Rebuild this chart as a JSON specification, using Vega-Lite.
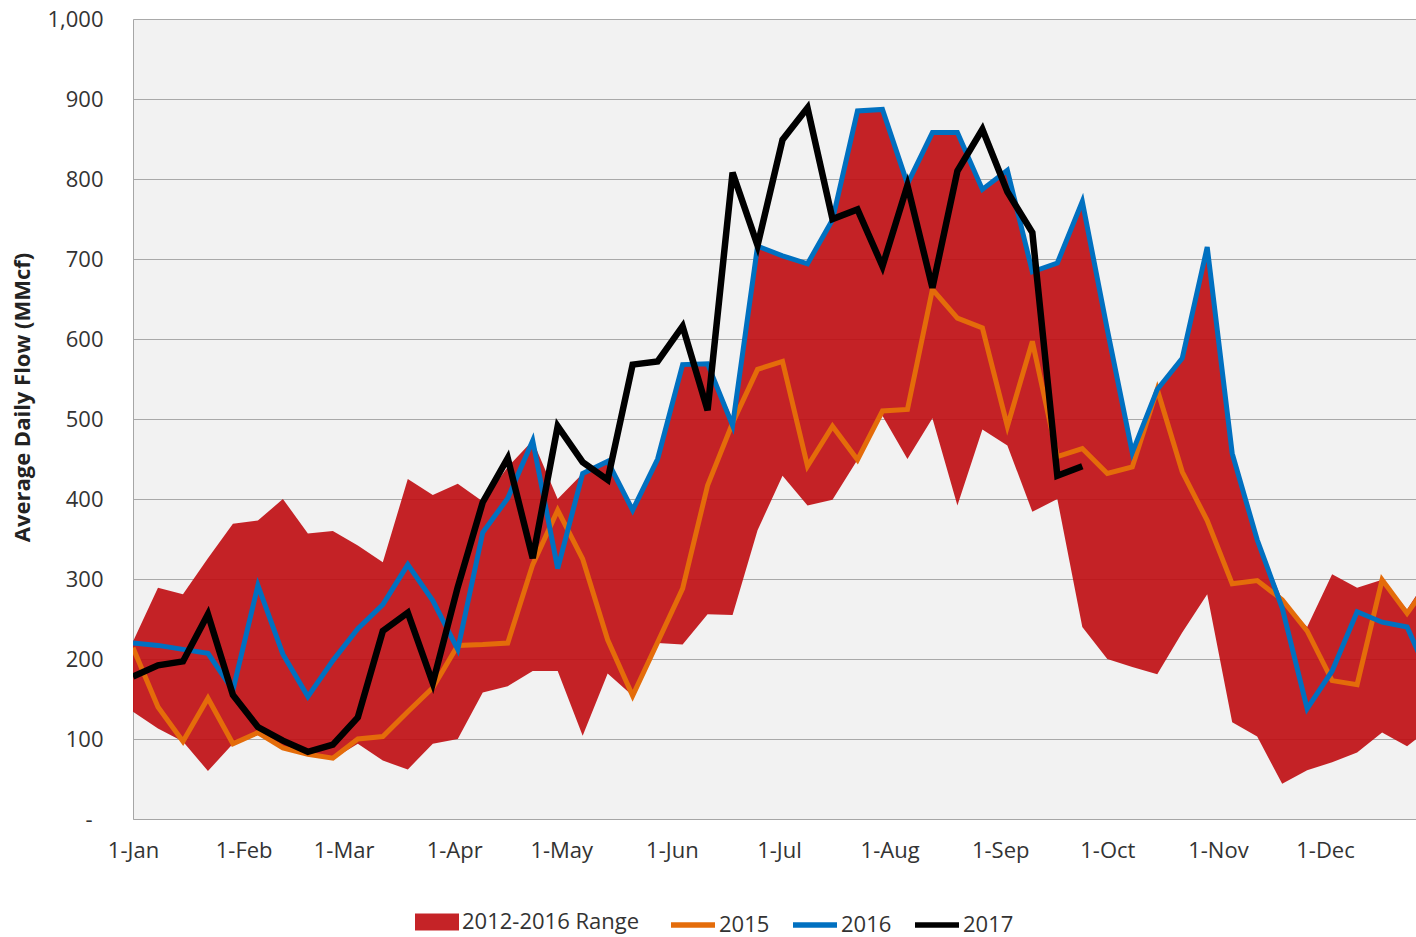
{
  "$schema": "https://vega.github.io/schema/vega-lite/v6.json",
  "width": 1283,
  "height": 800,
  "autosize": {"type": "none"},
  "padding": {"left": 133, "top": 19, "right": 0, "bottom": 118},
  "background": "#FFFFFF",
  "config": {
    "view": {"fill": "#F2F2F2", "stroke": null},
    "font": "Open Sans",
    "axis": {"labelFont": "Open Sans", "titleFont": "Open Sans"},
    "legend": {"labelFont": "Open Sans"}
  },
  "datasets": {
    "weekly": [
      {"date": "2017-01-01", "low": 134, "high": 222, "2015": 214, "2016": 220, "2017": 178},
      {"date": "2017-01-08", "low": 113, "high": 289, "2015": 140, "2016": 217, "2017": 192},
      {"date": "2017-01-15", "low": 97, "high": 281, "2015": 97, "2016": 212, "2017": 197},
      {"date": "2017-01-22", "low": 60, "high": 326, "2015": 151, "2016": 207, "2017": 256},
      {"date": "2017-01-29", "low": 94, "high": 369, "2015": 94, "2016": 161, "2017": 155},
      {"date": "2017-02-05", "low": 105, "high": 373, "2015": 108, "2016": 292, "2017": 115},
      {"date": "2017-02-12", "low": 88, "high": 400, "2015": 89, "2016": 206, "2017": 98},
      {"date": "2017-02-19", "low": 80, "high": 357, "2015": 81, "2016": 153, "2017": 84},
      {"date": "2017-02-26", "low": 75, "high": 360, "2015": 76, "2016": 198, "2017": 93},
      {"date": "2017-03-05", "low": 94, "high": 342, "2015": 100, "2016": 238, "2017": 127},
      {"date": "2017-03-12", "low": 73, "high": 321, "2015": 103, "2016": 268, "2017": 235},
      {"date": "2017-03-19", "low": 62, "high": 425, "2015": 134, "2016": 318, "2017": 258},
      {"date": "2017-03-26", "low": 94, "high": 405, "2015": 164, "2016": 273, "2017": 170},
      {"date": "2017-04-02", "low": 100, "high": 419, "2015": 217, "2016": 212, "2017": 290},
      {"date": "2017-04-09", "low": 158, "high": 397, "2015": 218, "2016": 358, "2017": 396},
      {"date": "2017-04-16", "low": 166, "high": 440, "2015": 220, "2016": 401, "2017": 451},
      {"date": "2017-04-23", "low": 185, "high": 473, "2015": 318, "2016": 473, "2017": 326},
      {"date": "2017-04-30", "low": 185, "high": 400, "2015": 386, "2016": 313, "2017": 491},
      {"date": "2017-05-07", "low": 104, "high": 432, "2015": 325, "2016": 432, "2017": 446},
      {"date": "2017-05-14", "low": 182, "high": 447, "2015": 224, "2016": 447, "2017": 424},
      {"date": "2017-05-21", "low": 154, "high": 386, "2015": 154, "2016": 386, "2017": 568},
      {"date": "2017-05-28", "low": 220, "high": 450, "2015": 221, "2016": 450, "2017": 572},
      {"date": "2017-06-04", "low": 218, "high": 568, "2015": 288, "2016": 568, "2017": 616},
      {"date": "2017-06-11", "low": 256, "high": 569, "2015": 417, "2016": 569, "2017": 511},
      {"date": "2017-06-18", "low": 255, "high": 500, "2015": 495, "2016": 492, "2017": 808},
      {"date": "2017-06-25", "low": 361, "high": 716, "2015": 562, "2016": 716, "2017": 717},
      {"date": "2017-07-02", "low": 429, "high": 704, "2015": 572, "2016": 704, "2017": 849},
      {"date": "2017-07-09", "low": 392, "high": 694, "2015": 441, "2016": 694, "2017": 889},
      {"date": "2017-07-16", "low": 399, "high": 749, "2015": 491, "2016": 749, "2017": 750},
      {"date": "2017-07-23", "low": 449, "high": 885, "2015": 449, "2016": 885, "2017": 762},
      {"date": "2017-07-30", "low": 504, "high": 887, "2015": 510, "2016": 887, "2017": 691},
      {"date": "2017-08-06", "low": 450, "high": 794, "2015": 512, "2016": 794, "2017": 792},
      {"date": "2017-08-13", "low": 501, "high": 858, "2015": 662, "2016": 858, "2017": 664},
      {"date": "2017-08-20", "low": 392, "high": 858, "2015": 626, "2016": 858, "2017": 810},
      {"date": "2017-08-27", "low": 487, "high": 787, "2015": 614, "2016": 787, "2017": 862},
      {"date": "2017-09-03", "low": 467, "high": 811, "2015": 491, "2016": 811, "2017": 784},
      {"date": "2017-09-10", "low": 384, "high": 684, "2015": 597, "2016": 684, "2017": 733},
      {"date": "2017-09-17", "low": 400, "high": 695, "2015": 453, "2016": 695, "2017": 429},
      {"date": "2017-09-24", "low": 240, "high": 772, "2015": 463, "2016": 772, "2017": 441},
      {"date": "2017-10-01", "low": 200, "high": 612, "2015": 432, "2016": 612},
      {"date": "2017-10-08", "low": 190, "high": 458, "2015": 440, "2016": 458},
      {"date": "2017-10-15", "low": 181, "high": 537, "2015": 537, "2016": 537},
      {"date": "2017-10-22", "low": 233, "high": 576, "2015": 434, "2016": 576},
      {"date": "2017-10-29", "low": 281, "high": 715, "2015": 373, "2016": 715},
      {"date": "2017-11-05", "low": 121, "high": 457, "2015": 294, "2016": 457},
      {"date": "2017-11-12", "low": 103, "high": 349, "2015": 298, "2016": 349},
      {"date": "2017-11-19", "low": 44, "high": 274, "2015": 274, "2016": 264},
      {"date": "2017-11-26", "low": 61, "high": 240, "2015": 235, "2016": 138},
      {"date": "2017-12-03", "low": 71, "high": 306, "2015": 173, "2016": 185},
      {"date": "2017-12-10", "low": 83, "high": 289, "2015": 168, "2016": 259},
      {"date": "2017-12-17", "low": 108, "high": 299, "2015": 299, "2016": 246},
      {"date": "2017-12-24", "low": 91, "high": 262, "2015": 257, "2016": 240},
      {"date": "2017-12-31", "low": 115, "high": 310, "2015": 300, "2016": 170}
    ]
  },
  "data": {"name": "weekly"},
  "encoding": {
    "x": {
      "field": "date",
      "type": "temporal",
      "scale": {
        "type": "utc",
        "domain": [
          {"year": 2017, "month": 1, "date": 1, "utc": true},
          {"year": 2017, "month": 12, "date": 26, "hours": 12, "utc": true}
        ]
      },
      "axis": {
        "title": null,
        "values": [
          {"year": 2017, "month": 1, "date": 1, "utc": true},
          {"year": 2017, "month": 2, "date": 1, "utc": true},
          {"year": 2017, "month": 3, "date": 1, "utc": true},
          {"year": 2017, "month": 4, "date": 1, "utc": true},
          {"year": 2017, "month": 5, "date": 1, "utc": true},
          {"year": 2017, "month": 6, "date": 1, "utc": true},
          {"year": 2017, "month": 7, "date": 1, "utc": true},
          {"year": 2017, "month": 8, "date": 1, "utc": true},
          {"year": 2017, "month": 9, "date": 1, "utc": true},
          {"year": 2017, "month": 10, "date": 1, "utc": true},
          {"year": 2017, "month": 11, "date": 1, "utc": true},
          {"year": 2017, "month": 12, "date": 1, "utc": true}
        ],
        "format": "%-d-%b",
        "grid": false,
        "ticks": false,
        "domain": true,
        "domainColor": "#A6A6A6",
        "domainWidth": 1,
        "labelFontSize": 22,
        "labelColor": "#333333",
        "labelPadding": 21,
        "labelFlush": false,
        "labelOverlap": false
      }
    }
  },
  "layer": [
    {
      "mark": {"type": "area", "opacity": 0.9, "clip": true},
      "encoding": {
        "y": {
          "field": "high",
          "type": "quantitative",
          "scale": {"domain": [0, 1000], "nice": false},
          "axis": {
            "values": [0, 100, 200, 300, 400, 500, 600, 700, 800, 900, 1000],
            "labelExpr": "datum.value == 0 ? '-' : format(datum.value, ',')",
            "grid": true,
            "gridColor": "#A9A9A9",
            "gridWidth": 1,
            "ticks": false,
            "domain": true,
            "domainColor": "#A6A6A6",
            "labelFontSize": 22,
            "labelColor": "#333333",
            "labelPadding": {"condition": {"test": "datum.value == 0", "value": 41}, "value": 30},
            "labelOverlap": false,
            "title": "Average Daily Flow (MMcf)",
            "titleFontSize": 22,
            "titleFontWeight": "bold",
            "titleColor": "#222222",
            "titleX": -111,
            "titleY": 378,
            "titleBaseline": "middle",
            "titleAngle": -90
          }
        },
        "y2": {"field": "low"},
        "fill": {
          "datum": "2012-2016 Range",
          "type": "nominal",
          "scale": {"domain": ["2012-2016 Range"], "range": ["#BF0B0F"]},
          "legend": {
            "orient": "none",
            "legendX": 282,
            "legendY": 881,
            "title": null,
            "padding": 0,
            "symbolType": "M-1,-0.386H1V0.386H-1Z",
            "symbolSize": 1936,
            "symbolStrokeWidth": 0,
            "symbolOpacity": 0.9,
            "labelFontSize": 22,
            "labelLimit": 400,
            "labelColor": "#333333",
            "labelOffset": 3
          }
        }
      }
    },
    {
      "transform": [{"fold": ["2015", "2016"], "as": ["series", "flow"]}],
      "mark": {"type": "line", "clip": true, "strokeWidth": 5},
      "encoding": {
        "y": {"field": "flow", "type": "quantitative"},
        "stroke": {
          "field": "series",
          "type": "nominal",
          "scale": {"domain": ["2015", "2016", "2017"], "range": ["#E46C0A", "#0070C0", "#000000"]},
          "legend": {
            "orient": "none",
            "direction": "horizontal",
            "legendX": 535,
            "legendY": 881,
            "title": null,
            "padding": 0,
            "symbolType": "stroke",
            "symbolSize": 1936,
            "symbolStrokeWidth": 5.5,
            "labelFontSize": 22,
            "labelLimit": 400,
            "labelColor": "#333333",
            "labelOffset": 1,
            "columnPadding": 12
          }
        }
      }
    },
    {
      "transform": [{"fold": ["2017"], "as": ["series", "flow"]}],
      "mark": {"type": "line", "clip": true, "strokeWidth": 6.5},
      "encoding": {
        "y": {"field": "flow", "type": "quantitative"},
        "stroke": {
          "field": "series",
          "type": "nominal"
        }
      }
    }
  ]
}
